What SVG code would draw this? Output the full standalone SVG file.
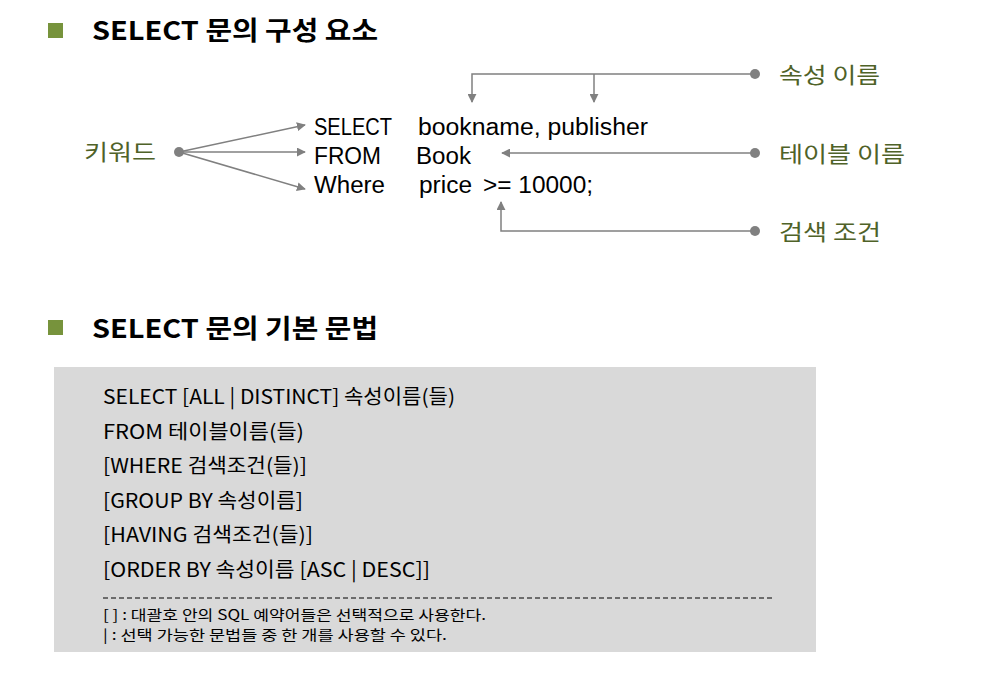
<svg xmlns="http://www.w3.org/2000/svg" width="987" height="696" viewBox="0 0 987 696">
<defs>
<style>
.t{font-family:"Noto Sans CJK KR","Noto Sans",sans-serif;}
.title{font-size:26px;font-weight:bold;fill:#000;}
.code{font-family:"Liberation Sans",Arial,sans-serif;font-size:23px;fill:#000;}
.lbl{font-size:22px;fill:#4f6228;}
.box{font-size:20px;fill:#000;}
.note{font-size:14px;fill:#000;}
.ln{stroke:#808080;stroke-width:1.5;fill:none;}
.dot{fill:#808080;}
.bul{fill:#77933c;}
</style>
<marker id="ah" viewBox="0 0 10 10" refX="9" refY="5" markerWidth="9" markerHeight="9" markerUnits="userSpaceOnUse" orient="auto">
<path d="M0,0 L10,5 L0,10 z" fill="#808080"/>
</marker>
</defs>
<rect width="987" height="696" fill="#fff"/>
<g id="title1">
<rect class="bul" x="48" y="23" width="15" height="15"/>
<text class="t title" x="92" y="40" textLength="286" lengthAdjust="spacingAndGlyphs">SELECT 문의 구성 요소</text>
</g>
<g id="code">
<text class="code" x="314" y="135" textLength="78" lengthAdjust="spacingAndGlyphs">SELECT</text>
<text class="code" x="418" y="135" textLength="230" lengthAdjust="spacingAndGlyphs">bookname, publisher</text>
<text class="code" x="314" y="164" textLength="67" lengthAdjust="spacingAndGlyphs">FROM</text>
<text class="code" x="416" y="164" textLength="55" lengthAdjust="spacingAndGlyphs">Book</text>
<text class="code" x="314" y="193" textLength="71" lengthAdjust="spacingAndGlyphs">Where</text>
<text class="code" x="419" y="193" textLength="53" lengthAdjust="spacingAndGlyphs">price</text>
<text class="code" x="483" y="193" textLength="110" lengthAdjust="spacingAndGlyphs">&gt;= 10000;</text>
</g>
<g id="keyword">
<circle class="dot" cx="179" cy="152" r="5"/>
<text class="t lbl" x="84" y="160" textLength="72" lengthAdjust="spacingAndGlyphs">키워드</text>
</g>
<g id="attr">
<circle class="dot" cx="755" cy="74" r="5"/>
<text class="t lbl" x="779" y="83" textLength="101" lengthAdjust="spacingAndGlyphs">속성 이름</text>
</g>
<g id="table">
<circle class="dot" cx="755" cy="153" r="5"/>
<text class="t lbl" x="779" y="162" textLength="126" lengthAdjust="spacingAndGlyphs">테이블 이름</text>
</g>
<g id="cond">
<circle class="dot" cx="755" cy="231" r="5"/>
<text class="t lbl" x="779" y="240" textLength="102" lengthAdjust="spacingAndGlyphs">검색 조건</text>
</g>
<g id="connectors">
<line class="ln" x1="179" y1="152" x2="305" y2="125" marker-end="url(#ah)"/>
<line class="ln" x1="179" y1="152" x2="305" y2="152" marker-end="url(#ah)"/>
<line class="ln" x1="179" y1="152" x2="305" y2="189" marker-end="url(#ah)"/>
<polyline class="ln" points="755,74 472,74 472,102" marker-end="url(#ah)"/>
<line class="ln" x1="594" y1="74" x2="594" y2="102" marker-end="url(#ah)"/>
<line class="ln" x1="755" y1="153" x2="502" y2="153" marker-end="url(#ah)"/>
<polyline class="ln" points="755,231 501,231 501,202" marker-end="url(#ah)"/>
</g>
<g id="title2">
<rect class="bul" x="48" y="320" width="15" height="15"/>
<text class="t title" x="92" y="338" textLength="286" lengthAdjust="spacingAndGlyphs">SELECT 문의 기본 문법</text>
</g>
<g id="syntax">
<rect x="54" y="367" width="762" height="285" fill="#d9d9d9"/>
<text class="t box" x="103" y="404" textLength="352" lengthAdjust="spacingAndGlyphs">SELECT [ALL | DISTINCT] 속성이름(들)</text>
<text class="t box" x="103" y="439" textLength="201" lengthAdjust="spacingAndGlyphs">FROM 테이블이름(들)</text>
<text class="t box" x="103" y="473" textLength="204" lengthAdjust="spacingAndGlyphs">[WHERE 검색조건(들)]</text>
<text class="t box" x="103" y="508" textLength="200" lengthAdjust="spacingAndGlyphs">[GROUP BY 속성이름]</text>
<text class="t box" x="103" y="542" textLength="210" lengthAdjust="spacingAndGlyphs">[HAVING 검색조건(들)]</text>
<text class="t box" x="103" y="577" textLength="327" lengthAdjust="spacingAndGlyphs">[ORDER BY 속성이름 [ASC | DESC]]</text>
<line x1="103" y1="598" x2="775" y2="598" stroke="#000" stroke-width="1" stroke-dasharray="5,3"/>
<text class="t note" x="103" y="620" textLength="383" lengthAdjust="spacingAndGlyphs">[ ] : 대괄호 안의 SQL 예약어들은 선택적으로 사용한다.</text>
<text class="t note" x="103" y="640" textLength="344" lengthAdjust="spacingAndGlyphs">| : 선택 가능한 문법들 중 한 개를 사용할 수 있다.</text>
</g>
</svg>
